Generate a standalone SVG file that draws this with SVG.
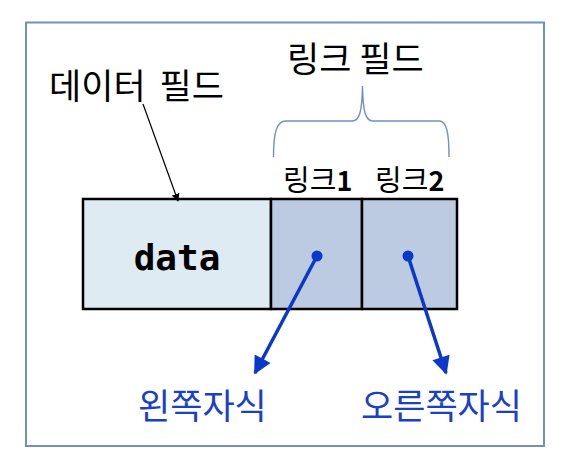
<svg xmlns="http://www.w3.org/2000/svg" width="574" height="468" viewBox="0 0 574 468">
<style>
.kr{font-family:"Noto Sans CJK KR","Noto Sans",sans-serif;}
.lbl{font-size:35px;fill:#000;}
.blue{font-size:35px;fill:#1a40c8;}
.sub{font-size:29px;fill:#000;}
.dig{font-size:27px;font-weight:bold;}
.cell{stroke:#000;stroke-width:2.5;}
.blk{stroke:#0a38c8;stroke-width:3.5;fill:none;}
</style>
<defs>
<marker id="ah" viewBox="0 0 10 10" refX="9" refY="5" markerWidth="8" markerHeight="8" markerUnits="userSpaceOnUse" orient="auto">
<path d="M0,0 L10,5 L0,10 z" fill="#000"/>
</marker>
<marker id="bh" viewBox="0 0 10 10" refX="9" refY="5" markerWidth="20" markerHeight="18" markerUnits="userSpaceOnUse" orient="auto">
<path d="M0,0 L10,5 L0,10 z" fill="#0a38c8"/>
</marker>
</defs>
<rect x="26" y="22.5" width="518" height="423.5" fill="#fff" stroke="#7090c0" stroke-width="2"/>
<g id="data-field-label"><text class="kr lbl" x="49" y="99">데이터 <tspan dx="6">필드</tspan></text></g>
<g id="link-field-label"><text class="kr lbl" x="287" y="72">링크 필드</text></g>
<g id="brace"><path d="M273.5,157 C273.5,134 276,121 286,121 L352,121 C360,121 362,110 362.5,86 C363,110 365,121 373,121 L439,121 C447,121 449,134 449,157" fill="none" stroke="#7090c0" stroke-width="1.4"/></g>
<g id="link-labels">
<text class="kr sub" x="283" y="191">링크<tspan class="dig">1</tspan></text>
<text class="kr sub" x="375" y="191">링크<tspan class="dig">2</tspan></text>
</g>
<g id="node">
<rect id="data-cell" class="cell" x="83" y="199" width="188" height="110" fill="#deebf3"/>
<rect id="link1-cell" class="cell" x="271" y="199" width="91" height="110" fill="#bccbe2"/>
<rect id="link2-cell" class="cell" x="362" y="199" width="95" height="110" fill="#bccbe2"/>
<text x="177" y="270" text-anchor="middle" font-family="'DejaVu Sans Mono',monospace" font-weight="bold" font-size="36">data</text>
<circle cx="317" cy="256" r="5.5" fill="#0a38c8"/>
<circle cx="408" cy="256" r="5.5" fill="#0a38c8"/>
</g>
<g id="connectors">
<line x1="143" y1="104" x2="178" y2="201" stroke="#000" stroke-width="1.2" marker-end="url(#ah)"/>
<line class="blk" x1="317" y1="256" x2="255" y2="373" marker-end="url(#bh)"/>
<line class="blk" x1="408" y1="256" x2="446" y2="373" marker-end="url(#bh)"/>
</g>
<g id="left-child"><text class="kr blue" x="138" y="419">왼쪽자식</text></g>
<g id="right-child"><text class="kr blue" x="361" y="419">오른쪽자식</text></g>
</svg>
